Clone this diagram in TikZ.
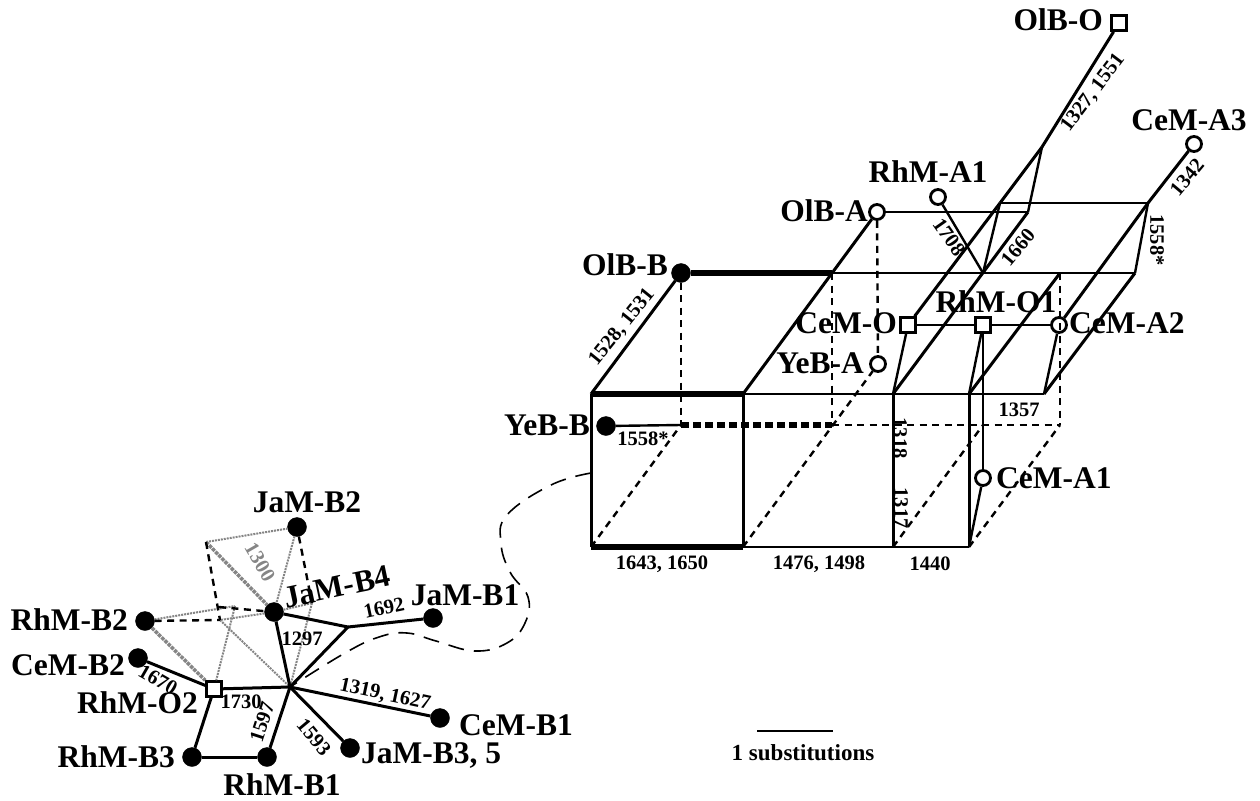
\documentclass[tikz,border=0pt]{standalone}
\usepackage{fontspec}
\setmainfont{Liberation Serif}
\usetikzlibrary{arrows.meta,calc,positioning}
\definecolor{treeGray}{HTML}{858585}
\tikzset{
  taxon/.style={inner sep=0pt, font=\fontsize{31.5}{31.5}\selectfont\bfseries},
  site/.style={inner sep=0pt, font=\fontsize{20.5}{20.5}\selectfont\bfseries},
  black dot/.style={circle, draw=black, fill=black, minimum size=19pt, inner sep=0pt},
  open dot/.style={circle, draw=black, line width=2.8pt, fill=white, minimum size=15pt, inner sep=0pt},
  open square/.style={rectangle, draw=black, line width=2.6pt, fill=white, minimum size=15pt, inner sep=0pt},
  edge/.style={line width=3pt, draw=black},
  thin edge/.style={line width=2.4pt, draw=black},
  heavy edge/.style={line width=6.5pt, draw=black},
  heavy dash/.style={line width=6.5pt, draw=black, dash pattern=on 8pt off 4pt},
  hidden edge/.style={line width=2.4pt, draw=black, dash pattern=on 7pt off 5.5pt},
  faint edge/.style={line width=2pt, draw=treeGray, densely dotted},
  faint wide/.style={line width=3.5pt, draw=treeGray, densely dotted},
  link curve/.style={line width=1.6pt, draw=black, dash pattern=on 16pt off 10pt}
}
\begin{document}
\begin{tikzpicture}[x=1pt,y=-1pt]
  \useasboundingbox (0,0) rectangle (1260,800);

  \coordinate (ft1) at (591,394);
  \coordinate (ft2) at (743,394);
  \coordinate (ft3) at (893,394);
  \coordinate (ft4) at (969,394);
  \coordinate (ft5) at (1044,394);
  \coordinate (fb1) at (591,547);
  \coordinate (fb2) at (743,547);
  \coordinate (fb3) at (893,547);
  \coordinate (fb4) at (969,547);
  \coordinate (bt2) at (832,273);
  \coordinate (bt3) at (983,273);
  \coordinate (bt4) at (1060,273);
  \coordinate (bt5) at (1135,273);
  \coordinate (bb1) at (681,425);
  \coordinate (bb2) at (832,425);
  \coordinate (bb3) at (983,425);
  \coordinate (bb4) at (1060,425);
  \coordinate (tt1) at (1000,203);
  \coordinate (tt2) at (1028,212);
  \coordinate (tt3) at (1148,203);
  \coordinate (tb) at (1042,147);

  \node[open square] (olbo) at (1119,23) {};
  \node[open dot] (cema3) at (1194,144) {};
  \node[open dot] (rhma1) at (938,197) {};
  \node[open dot] (olba) at (877,212) {};
  \node[black dot] (olbb) at (681,273) {};
  \node[open square] (cemo) at (908,325) {};
  \node[open square] (rhmo1) at (983,325) {};
  \node[open dot] (cema2) at (1059,325) {};
  \node[open dot] (yeba) at (878,364) {};
  \node[black dot] (yebb) at (606,426) {};
  \node[open dot] (cema1) at (983,478) {};

  \draw[heavy edge] (olbb) -- (bt2);
  \draw[heavy edge] (ft1) -- (ft2);
  \draw[heavy edge] (fb1) -- (fb2);
  \draw[heavy dash] (bb1) -- (bb2);
  \draw[thin edge] (yebb) -- (bb1);
  \draw[thin edge] (bt2) -- (bt5);
  \draw[thin edge] (ft2) -- (ft5);
  \draw[thin edge] (fb2) -- (fb4);
  \draw[edge] (ft1) -- (fb1);
  \draw[edge] (ft2) -- (fb2);
  \draw[edge] (ft3) -- (fb3);
  \draw[edge] (ft4) -- (fb4);
  \draw[edge] (olbb) -- (ft1);
  \draw[edge] (olba) -- (ft2);
  \draw[edge] (ft3) -- (tt2);
  \draw[edge] (ft4) -- (bt4);
  \draw[edge] (ft5) -- (bt5);
  \draw[edge] (cemo) -- (tt1);
  \draw[edge] (tt1) -- (tb);
  \draw[edge] (tb) -- (olbo);
  \draw[edge] (cema2) -- (tt3);
  \draw[edge] (tt3) -- (cema3);
  \draw[thin edge] (olba) -- (tt2);
  \draw[thin edge] (tt2) -- (tb);
  \draw[thin edge] (tt1) -- (tt3);
  \draw[thin edge] (tt1) -- (bt3);
  \draw[thin edge] (tt3) -- (bt5);
  \draw[thin edge] (rhma1) -- (bt3);
  \draw[thin edge] (cemo) -- (rhmo1);
  \draw[thin edge] (rhmo1) -- (cema2);
  \draw[thin edge] (cemo) -- (ft3);
  \draw[thin edge] (rhmo1) -- (ft4);
  \draw[thin edge] (cema2) -- (ft5);
  \draw[thin edge] (rhmo1) -- (cema1);
  \draw[thin edge] (cema1) -- (fb4);

  \draw[hidden edge] (olbb) -- (bb1);
  \draw[hidden edge] (bt2) -- (bb2);
  \draw[hidden edge] (bt4) -- (bb4);
  \draw[hidden edge] (olba) -- (yeba);
  \draw[hidden edge] (bb2) -- (bb4);
  \draw[hidden edge] (fb1) -- (bb1);
  \draw[hidden edge] (fb2) -- (yeba);
  \draw[hidden edge] (fb3) -- (bb3);
  \draw[hidden edge] (fb4) -- (bb4);

  \node[taxon, anchor=east] (tolbo) at (1103,20) {OlB-O};
  \node[taxon] (tcema3) at (1189,120) {CeM-A3};
  \node[taxon] (trhmA1) at (928,172) {RhM-A1};
  \node[taxon, anchor=east] (tolba) at (868,211) {OlB-A};
  \node[taxon, anchor=east] (tolbb) at (668,265) {OlB-B};
  \node[taxon, anchor=east] (tcemo) at (897,323) {CeM-O};
  \node[taxon] (trhmo1) at (996,302) {RhM-O1};
  \node[taxon, anchor=west] (tcema2) at (1069,323) {CeM-A2};
  \node[taxon, anchor=east] (tyeba) at (864,363) {YeB-A};
  \node[taxon, anchor=east] (tyebb) at (590,425) {YeB-B};
  \node[taxon, anchor=west] (tcema1) at (996,478) {CeM-A1};

  \node[site, rotate=53] (s1327) at (1093,93) {1327, 1551};
  \node[site, rotate=50] (s1342) at (1187,177) {1342};
  \node[site, rotate=-90] (s1558a) at (1157,240) {1558*};
  \node[site, rotate=-55] (s1708) at (949,237) {1708};
  \node[site, rotate=50] (s1660) at (1018,247) {1660};
  \node[site, rotate=51] (s1528) at (622,327) {1528, 1531};
  \node[site] (s1558b) at (643,439) {1558*};
  \node[site] (s1357) at (1019,410) {1357};
  \node[site, rotate=-90] (s1318) at (900,438) {1318};
  \node[site, rotate=-90] (s1317) at (901,508) {1317};
  \node[site] (s1643) at (662,564) {1643, 1650};
  \node[site] (s1476) at (819,564) {1476, 1498};
  \node[site] (s1440) at (930,564) {1440};

  \node[black dot] (jamb2) at (297,527) {};
  \node[black dot] (jamb4) at (274,612) {};
  \node[black dot] (jamb1) at (433,618) {};
  \node[black dot] (rhmb2) at (145,621) {};
  \node[black dot] (cemb2) at (138,658) {};
  \node[open square] (rhmo2) at (214,689) {};
  \node[black dot] (cemb1) at (440,718) {};
  \node[black dot] (jamb3) at (350,748) {};
  \node[black dot] (rhmb1) at (267,757) {};
  \node[black dot] (rhmb3) at (192,757) {};
  \coordinate (hub) at (290,687);
  \coordinate (fork) at (348,627);
  \coordinate (ga) at (206,542);
  \coordinate (gb) at (235,606);
  \coordinate (gc) at (220,620);
  \coordinate (gd) at (312,603);
  \coordinate (ge) at (219,607);

  \draw[faint edge] (ga) -- (jamb2);
  \draw[faint wide] (ga) -- (jamb4);
  \draw[faint edge] (jamb2) -- (jamb4);
  \draw[faint edge] (rhmb2) -- (gb);
  \draw[faint edge] (gb) -- (rhmo2);
  \draw[faint wide] (rhmb2) -- (rhmo2);
  \draw[faint edge] (jamb4) -- (gc);
  \draw[faint edge] (gc) -- (hub);
  \draw[faint edge] (jamb4) -- (gd);
  \draw[faint edge] (gd) -- (hub);
  \draw[hidden edge] (jamb2) -- (gd);
  \draw[hidden edge] (ga) -- (gc);
  \draw[hidden edge] (rhmb2) -- (gc);
  \draw[hidden edge] (ge) -- (jamb4);

  \draw[edge] (jamb4) -- (fork);
  \draw[edge] (fork) -- (jamb1);
  \draw[edge] (fork) -- (hub);
  \draw[edge] (jamb4) -- (hub);
  \draw[edge] (cemb2) -- (rhmo2);
  \draw[edge] (rhmo2) -- (hub);
  \draw[edge] (rhmo2) -- (rhmb3);
  \draw[edge] (rhmb3) -- (rhmb1);
  \draw[edge] (rhmb1) -- (hub);
  \draw[edge] (hub) -- (cemb1);
  \draw[edge] (hub) -- (jamb3);

  \node[taxon] (tjamb2) at (307,502) {JaM-B2};
  \node[taxon, rotate=12] (tjamb4) at (337,587) {JaM-B4};
  \node[taxon] (tjamb1) at (465,595) {JaM-B1};
  \node[taxon, anchor=east] (trhmb2) at (128,620) {RhM-B2};
  \node[taxon, anchor=east] (tcemb2) at (125,665) {CeM-B2};
  \node[taxon, anchor=east] (trhmo2) at (198,703) {RhM-O2};
  \node[taxon, anchor=east] (trhmb3) at (175,757) {RhM-B3};
  \node[taxon] (trhmb1) at (282,785) {RhM-B1};
  \node[taxon, anchor=west] (tjamb3) at (361,755) {JaM-B3, 5};
  \node[taxon, anchor=west] (tcemb1) at (459,725) {CeM-B1};

  \node[site, text=treeGray, rotate=-60] (s1300) at (260,562) {1300};
  \node[site, rotate=12] (s1692) at (384,608) {1692};
  \node[site] (s1297) at (302,639) {1297};
  \node[site, rotate=-30] (s1670) at (158,680) {1670};
  \node[site] (s1730) at (241,702) {1730};
  \node[site, rotate=72] (s1597) at (262,722) {1597};
  \node[site, rotate=-50] (s1593) at (314,737) {1593};
  \node[site, rotate=-12] (s1319) at (385,695) {1319, 1627};

  \draw[link curve] plot[smooth, tension=0.7] coordinates {(591,473) (551,485) (507,515) (501,543) (510,572) (528,597) (525,623) (507,643) (475,651) (436,641) (407,633) (379,637) (345,653) (hub)};

  \coordinate (barl) at (757,731);
  \coordinate (barr) at (833,731);
  \draw[thin edge] (barl) -- (barr);
  \node[site, font=\fontsize{23}{23}\selectfont\bfseries] (tbar) at (803,753) {1 substitutions};
\end{tikzpicture}
\end{document}
